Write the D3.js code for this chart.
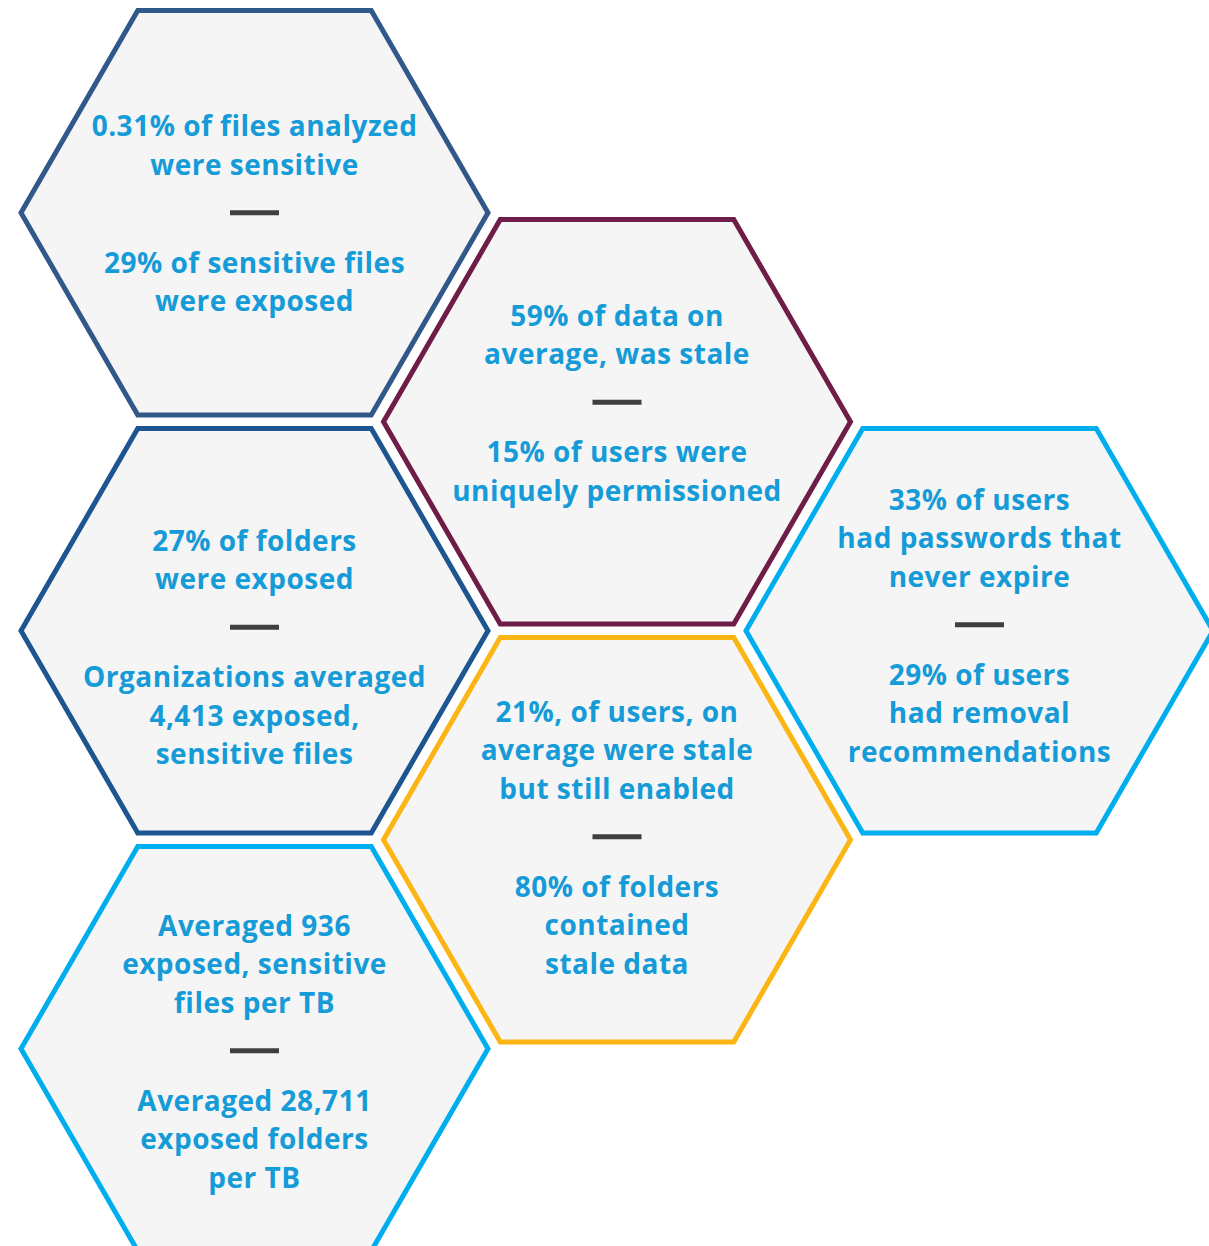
<!DOCTYPE html>
<html>
<head>
<meta charset="utf-8">
<script src="https://cdn.jsdelivr.net/npm/d3@7"></script>
<style>
  html, body { margin: 0; padding: 0; background: #ffffff; overflow: hidden; }
  svg { display: block; }
</style>
</head>
<body>
<svg id="chart" width="1209" height="1246"></svg>
<script>
// ---- data ----
const hexIds = ["sensitive", "stale", "folders", "users", "enabled", "perTB"];
const hexCols = [0, 1, 0, 2, 1, 0];
const hexRows = [0, 1, 2, 2, 3, 4];
const topStatements = [
  ["0.31% of files analyzed", "were sensitive"],
  ["59% of data on", "average, was stale"],
  ["27% of folders", "were exposed"],
  ["33% of users", "had passwords that", "never expire"],
  ["21%, of users, on", "average were stale", "but still enabled"],
  ["Averaged 936", "exposed, sensitive", "files per TB"]
];
const bottomStatements = [
  ["29% of sensitive files", "were exposed"],
  ["15% of users were", "uniquely permissioned"],
  ["Organizations averaged", "4,413 exposed,", "sensitive files"],
  ["29% of users", "had removal", "recommendations"],
  ["80% of folders", "contained", "stale data"],
  ["Averaged 28,711", "exposed folders", "per TB"]
];
const borderColors = ["#30598a", "#6e1d48", "#1d5590", "#00aeef", "#fbb616", "#00aeef"];

// ---- layout (not data) ----
const R = 233.5;
const textShift = [0, -19.5, -3.5, -6, -3, 2];
const lineH = 38.5;
const gap = 49;

const svg = d3.select("#chart");
const x = d3.scaleLinear().domain([0, 2]).range([254.5, 979.5]);
const y = d3.scaleLinear().domain([0, 4]).range([212.75, 1048.75]);

const hexPts = d3.range(6).map(i => {
  const a = Math.PI / 3 * i;
  return [R * Math.cos(a), R * Math.sin(a)];
});
const line = d3.line().curve(d3.curveLinearClosed);

const data = hexIds.map((id, i) => ({
  id, col: hexCols[i], row: hexRows[i],
  top: topStatements[i], bottom: bottomStatements[i],
  color: borderColors[i], shift: textShift[i]
}));

const g = svg.selectAll("g.hex").data(data).join("g")
  .attr("class", "hex")
  .attr("transform", d => `translate(${x(d.col)},${y(d.row)})`);

g.append("path")
  .attr("d", line(hexPts))
  .attr("fill", "#f5f5f5")
  .attr("stroke", d => d.color)
  .attr("stroke-width", 5)
  .attr("stroke-linejoin", "miter");

g.append("rect")
  .attr("x", -24.5).attr("width", 49)
  .attr("y", d => d.shift - 2.5).attr("height", 5)
  .attr("fill", "#3f3f3f");

const fontCss = "'Open Sans', Lato, sans-serif";

g.each(function(d) {
  const sel = d3.select(this);
  const n = d.top.length;
  sel.selectAll("text.top").data(d.top).join("text")
    .attr("class", "top")
    .attr("x", 0)
    .attr("y", (t, j) => d.shift - gap - (n - 1 - j) * lineH)
    .text(t => t);
  sel.selectAll("text.bot").data(d.bottom).join("text")
    .attr("class", "bot")
    .attr("x", 0)
    .attr("y", (t, j) => d.shift + gap + j * lineH)
    .text(t => t);
});

svg.selectAll("text")
  .attr("text-anchor", "middle")
  .attr("dominant-baseline", "central")
  .attr("font-family", fontCss)
  .attr("font-weight", 700)
  .attr("font-size", 28)
  .attr("letter-spacing", "0.5px")
  .attr("fill", "#159bd7");
</script>
</body>
</html>
